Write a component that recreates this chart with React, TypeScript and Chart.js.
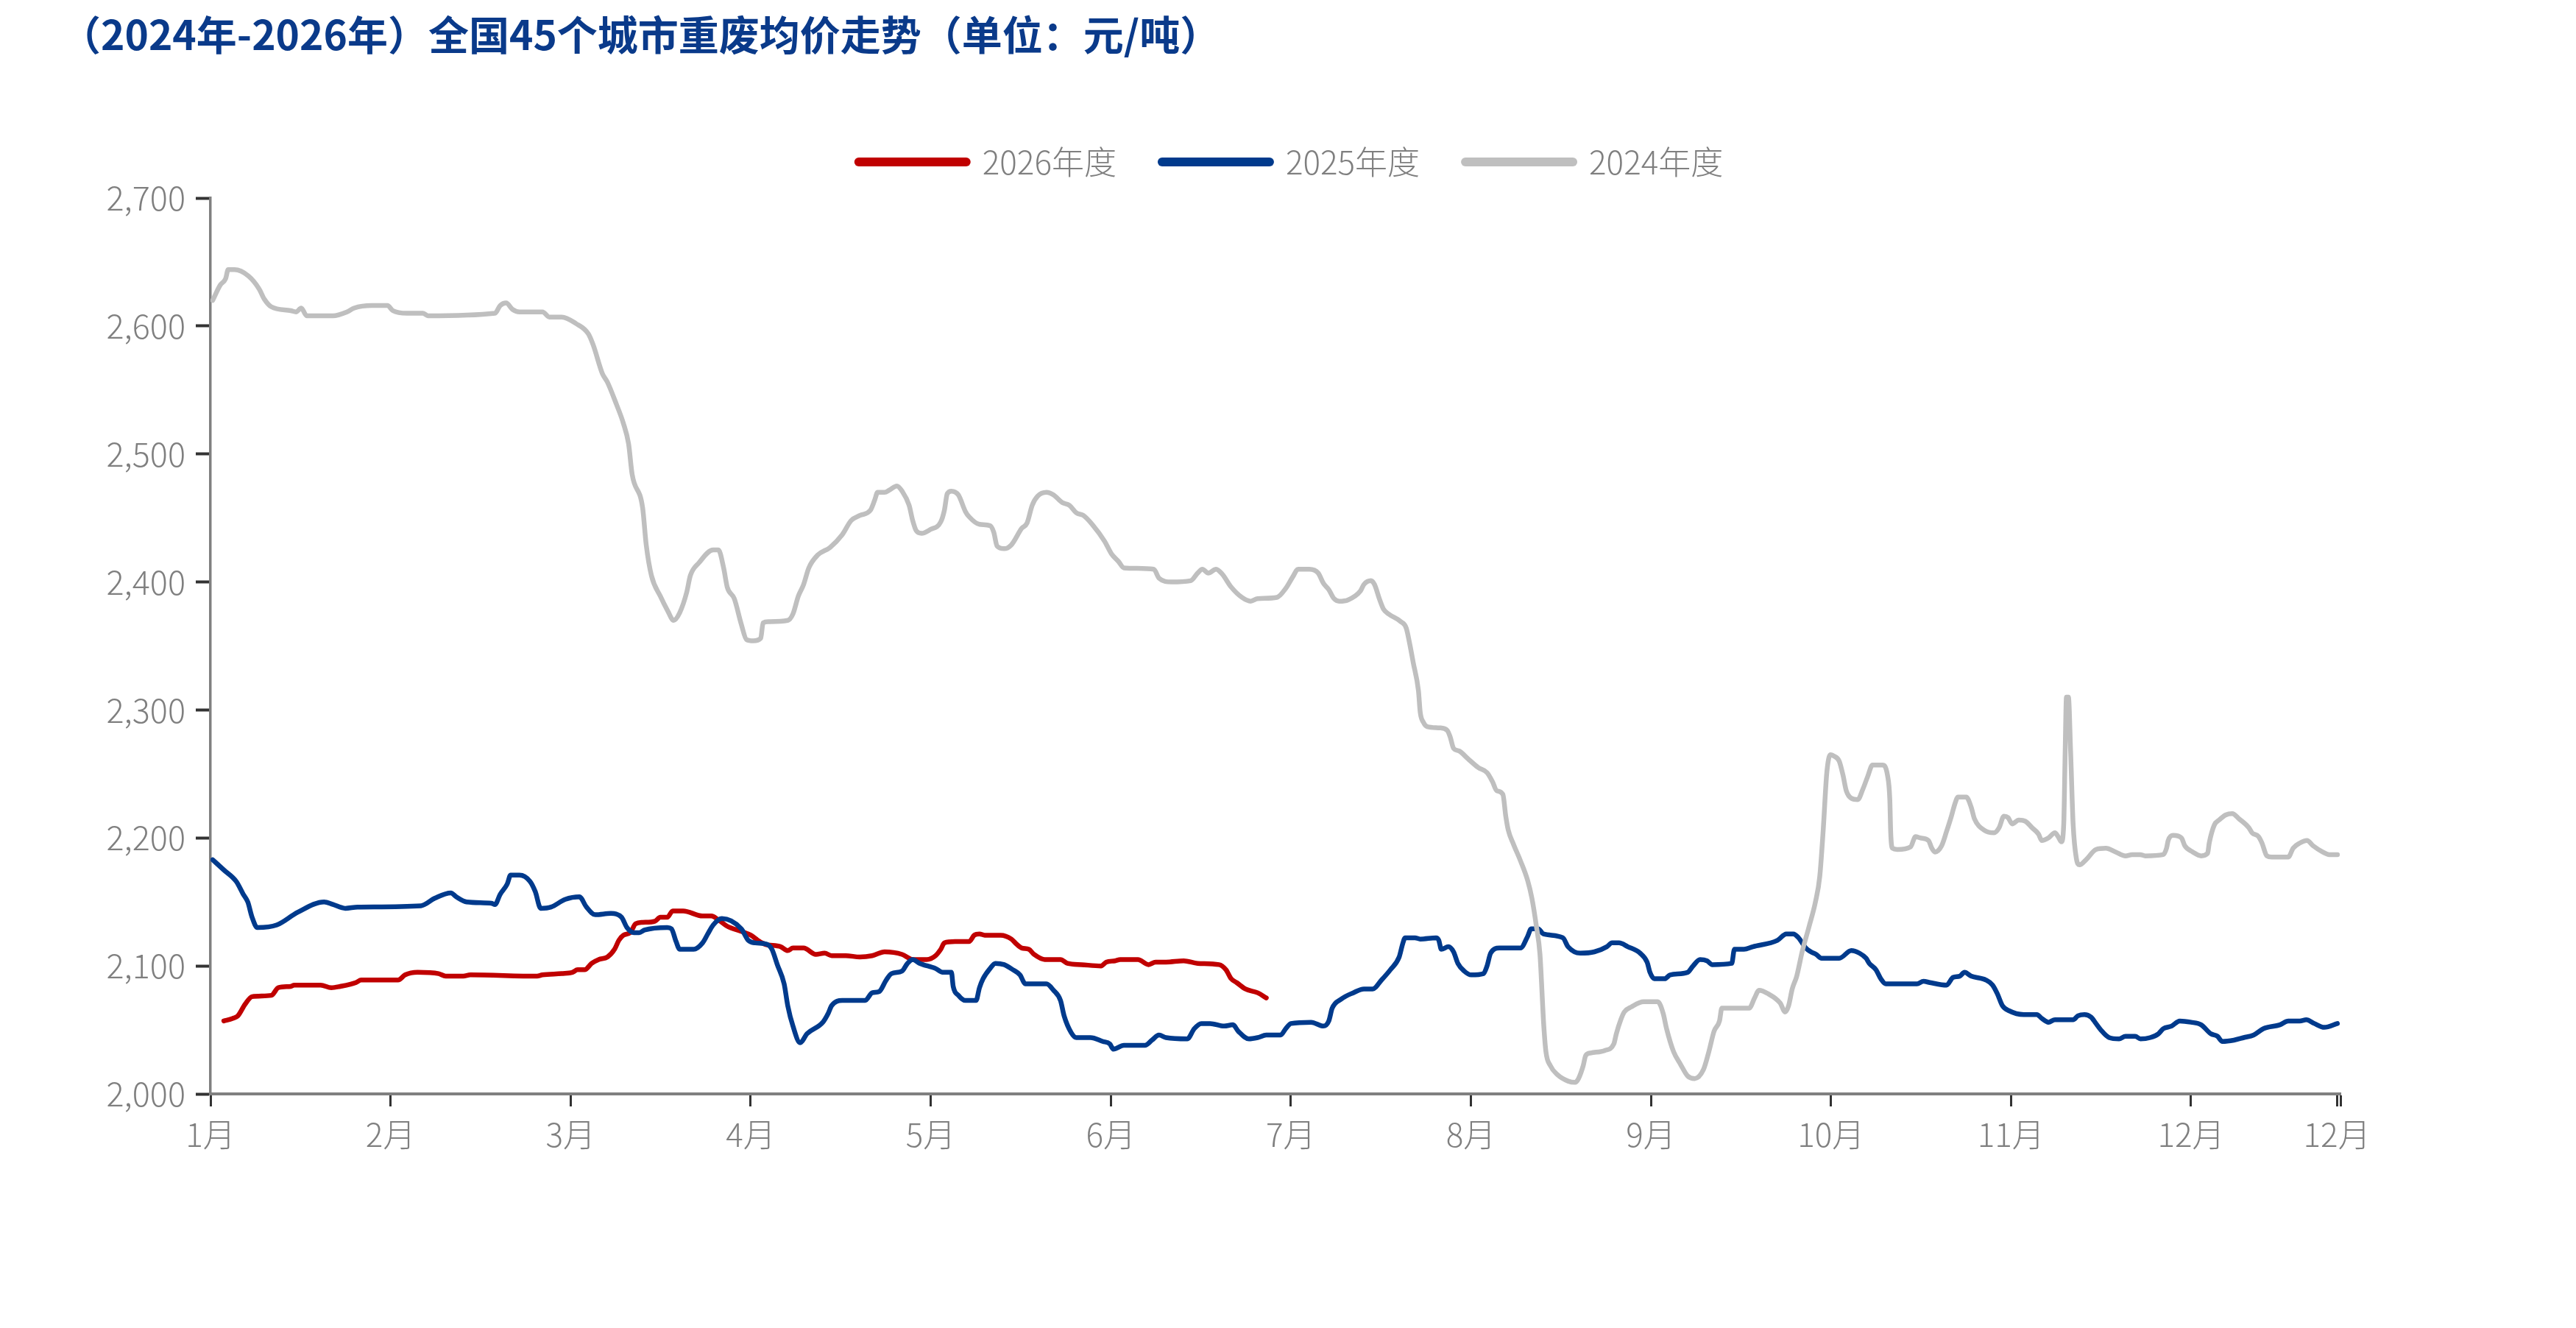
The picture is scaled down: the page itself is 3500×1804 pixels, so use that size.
import React, { useEffect, useRef } from 'react';
import { Chart, registerables } from 'chart.js';

Chart.register(...registerables);

// x position = month index (0 = 1月) + fraction of the month
const monthTickPositions = [0, 1, 2, 3, 4, 5, 6, 7, 8, 9, 10, 11, 11.81, 11.83];
const monthTickLabels = ['1月', '2月', '3月', '4月', '5月', '6月', '7月', '8月', '9月', '10月', '11月', '12月', '12月', ''];

const yMin = 2000;
const yMax = 2700;
const yStep = 100;

const seriesLabels = ['2026年度', '2025年度', '2024年度'];

const points2026: number[][] = [
  [0.074, 2057], [0.123, 2059], [0.152, 2061], [0.192, 2070], [0.231, 2076], [0.338, 2077], [0.377, 2083], [0.446, 2084],
  [0.465, 2085], [0.612, 2085], [0.671, 2083], [0.72, 2084], [0.808, 2087], [0.837, 2089], [1.042, 2089], [1.081, 2093],
  [1.15, 2095], [1.267, 2094], [1.306, 2092], [1.404, 2092], [1.443, 2093], [1.814, 2092], [1.843, 2093], [1.951, 2094],
  [2.01, 2095], [2.039, 2097], [2.078, 2097], [2.117, 2102], [2.156, 2105], [2.205, 2107], [2.244, 2113], [2.268, 2120],
  [2.293, 2124], [2.332, 2126], [2.361, 2133], [2.4, 2134], [2.469, 2135], [2.498, 2138], [2.537, 2138], [2.567, 2143],
  [2.625, 2143], [2.733, 2139], [2.782, 2139], [2.821, 2136], [2.87, 2131], [2.948, 2127], [3.001, 2124], [3.04, 2120],
  [3.079, 2117], [3.167, 2115], [3.206, 2112], [3.235, 2114], [3.294, 2114], [3.362, 2109], [3.411, 2110], [3.45, 2108],
  [3.528, 2108], [3.607, 2107], [3.675, 2108], [3.744, 2111], [3.841, 2109], [3.9, 2105], [3.978, 2105], [4.027, 2108],
  [4.056, 2113], [4.076, 2118], [4.135, 2119], [4.213, 2119], [4.242, 2124], [4.271, 2125], [4.3, 2124], [4.389, 2124],
  [4.448, 2121], [4.477, 2117], [4.506, 2114], [4.545, 2113], [4.574, 2109], [4.633, 2105], [4.721, 2105], [4.76, 2102],
  [4.838, 2101], [4.946, 2100], [4.975, 2103], [5.024, 2104], [5.053, 2105], [5.151, 2105], [5.21, 2101], [5.249, 2103],
  [5.307, 2103], [5.405, 2104], [5.483, 2102], [5.601, 2101], [5.64, 2097], [5.669, 2090], [5.699, 2087], [5.748, 2082],
  [5.816, 2079], [5.864, 2075],
];

const points2025: number[][] = [
  [0.012, 2183], [0.074, 2175], [0.143, 2166], [0.182, 2156], [0.207, 2150], [0.231, 2138], [0.26, 2130], [0.368, 2132],
  [0.485, 2142], [0.631, 2150], [0.68, 2148], [0.749, 2145], [0.817, 2146], [1.169, 2147], [1.247, 2153], [1.335, 2157],
  [1.365, 2154], [1.423, 2150], [1.56, 2149], [1.58, 2148], [1.609, 2156], [1.648, 2164], [1.667, 2171], [1.716, 2171],
  [1.775, 2166], [1.804, 2158], [1.834, 2145], [1.892, 2146], [1.97, 2152], [2.049, 2154], [2.088, 2146], [2.137, 2140],
  [2.224, 2141], [2.283, 2138], [2.313, 2130], [2.352, 2126], [2.381, 2126], [2.41, 2128], [2.537, 2130], [2.56, 2129],
  [2.586, 2119], [2.606, 2113], [2.684, 2113], [2.733, 2118], [2.762, 2125], [2.792, 2132], [2.84, 2137], [2.948, 2129],
  [2.987, 2120], [3.026, 2118], [3.089, 2117], [3.118, 2113], [3.148, 2101], [3.186, 2086], [3.206, 2069], [3.235, 2053],
  [3.275, 2040], [3.313, 2047], [3.401, 2056], [3.431, 2063], [3.45, 2069], [3.509, 2073], [3.538, 2073], [3.636, 2073],
  [3.675, 2079], [3.714, 2080], [3.753, 2089], [3.782, 2094], [3.841, 2096], [3.871, 2102], [3.9, 2105], [3.939, 2102],
  [4.027, 2098], [4.066, 2095], [4.115, 2095], [4.125, 2084], [4.154, 2077], [4.193, 2073], [4.252, 2073], [4.271, 2083],
  [4.291, 2090], [4.33, 2098], [4.359, 2102], [4.408, 2101], [4.457, 2097], [4.496, 2093], [4.526, 2086], [4.643, 2086],
  [4.682, 2081], [4.721, 2073], [4.741, 2061], [4.78, 2048], [4.809, 2044], [4.887, 2044], [4.956, 2041], [4.995, 2039],
  [5.014, 2035], [5.073, 2038], [5.19, 2038], [5.229, 2042], [5.268, 2046], [5.307, 2044], [5.425, 2043], [5.464, 2051],
  [5.503, 2055], [5.552, 2055], [5.63, 2053], [5.679, 2054], [5.708, 2049], [5.767, 2043], [5.816, 2044], [5.864, 2046],
  [5.943, 2046], [5.972, 2051], [6.001, 2055], [6.113, 2056], [6.181, 2053], [6.211, 2057], [6.23, 2067], [6.279, 2074],
  [6.347, 2079], [6.406, 2082], [6.455, 2082], [6.504, 2089], [6.553, 2097], [6.602, 2107], [6.621, 2117], [6.635, 2122],
  [6.69, 2122], [6.719, 2121], [6.807, 2122], [6.822, 2120], [6.836, 2113], [6.875, 2115], [6.904, 2111], [6.928, 2102],
  [6.963, 2096], [7.002, 2093], [7.07, 2094], [7.09, 2100], [7.11, 2110], [7.158, 2114], [7.276, 2114], [7.315, 2123],
  [7.335, 2129], [7.374, 2129], [7.403, 2125], [7.511, 2122], [7.54, 2115], [7.608, 2110], [7.686, 2111], [7.755, 2115],
  [7.784, 2118], [7.823, 2118], [7.872, 2115], [7.94, 2110], [7.979, 2103], [7.995, 2095], [8.019, 2090], [8.077, 2090],
  [8.107, 2093], [8.204, 2095], [8.234, 2100], [8.273, 2105], [8.312, 2104], [8.341, 2101], [8.449, 2102], [8.464, 2113],
  [8.517, 2113], [8.566, 2115], [8.703, 2120], [8.752, 2125], [8.791, 2125], [8.82, 2122], [8.86, 2114], [8.889, 2111],
  [8.918, 2109], [8.948, 2106], [9.046, 2106], [9.113, 2112], [9.158, 2110], [9.195, 2106], [9.213, 2102], [9.25, 2097],
  [9.277, 2090], [9.305, 2086], [9.478, 2086], [9.514, 2088], [9.55, 2087], [9.642, 2085], [9.678, 2091], [9.715, 2092],
  [9.742, 2095], [9.779, 2092], [9.861, 2089], [9.898, 2085], [9.925, 2078], [9.952, 2069], [9.989, 2065], [10.071, 2062],
  [10.144, 2062], [10.171, 2059], [10.208, 2056], [10.244, 2058], [10.345, 2058], [10.372, 2061], [10.408, 2062], [10.445, 2060],
  [10.472, 2055], [10.499, 2050], [10.545, 2044], [10.6, 2043], [10.636, 2045], [10.69, 2045], [10.719, 2043], [10.773, 2044],
  [10.819, 2047], [10.846, 2051], [10.892, 2053], [10.937, 2057], [11.0, 2056], [11.056, 2054], [11.11, 2047], [11.147, 2045],
  [11.174, 2041], [11.238, 2042], [11.293, 2044], [11.348, 2046], [11.403, 2051], [11.494, 2054], [11.54, 2057], [11.604, 2057],
  [11.64, 2058], [11.685, 2055], [11.74, 2052], [11.813, 2055],
];

const points2024: number[][] = [
  [0.012, 2620], [0.054, 2632], [0.084, 2637], [0.098, 2644], [0.133, 2644], [0.211, 2639], [0.27, 2629], [0.299, 2621],
  [0.338, 2615], [0.446, 2612], [0.475, 2611], [0.504, 2614], [0.534, 2608], [0.68, 2608], [0.758, 2611], [0.798, 2614],
  [0.895, 2616], [0.983, 2616], [1.013, 2612], [1.091, 2610], [1.179, 2610], [1.208, 2608], [1.58, 2610], [1.609, 2616],
  [1.642, 2618], [1.677, 2613], [1.716, 2611], [1.844, 2611], [1.882, 2607], [1.951, 2607], [2.029, 2602], [2.098, 2594],
  [2.126, 2585], [2.176, 2563], [2.205, 2556], [2.254, 2539], [2.293, 2524], [2.322, 2508], [2.342, 2484], [2.4, 2458],
  [2.42, 2429], [2.449, 2405], [2.498, 2389], [2.541, 2377], [2.572, 2370], [2.606, 2376], [2.645, 2392], [2.665, 2405],
  [2.713, 2415], [2.792, 2425], [2.821, 2425], [2.85, 2411], [2.87, 2396], [2.909, 2387], [2.948, 2367], [2.977, 2355],
  [3.016, 2354], [3.056, 2356], [3.069, 2368], [3.099, 2369], [3.206, 2370], [3.235, 2375], [3.265, 2389], [3.294, 2398],
  [3.323, 2411], [3.372, 2421], [3.441, 2427], [3.509, 2437], [3.558, 2448], [3.607, 2452], [3.665, 2456], [3.689, 2464],
  [3.705, 2470], [3.744, 2470], [3.773, 2472], [3.812, 2475], [3.841, 2471], [3.88, 2460], [3.9, 2448], [3.92, 2440],
  [3.949, 2438], [3.998, 2441], [4.056, 2447], [4.076, 2456], [4.092, 2469], [4.115, 2471], [4.154, 2468], [4.193, 2455],
  [4.213, 2451], [4.271, 2445], [4.33, 2444], [4.35, 2439], [4.369, 2428], [4.408, 2426], [4.448, 2429], [4.506, 2442],
  [4.535, 2446], [4.564, 2460], [4.594, 2467], [4.643, 2470], [4.682, 2468], [4.731, 2462], [4.77, 2460], [4.809, 2454],
  [4.848, 2452], [4.897, 2445], [4.965, 2432], [5.004, 2422], [5.043, 2416], [5.073, 2411], [5.239, 2410], [5.268, 2403],
  [5.337, 2400], [5.444, 2401], [5.483, 2407], [5.509, 2410], [5.542, 2407], [5.585, 2410], [5.62, 2406], [5.669, 2396],
  [5.728, 2388], [5.777, 2385], [5.816, 2387], [5.923, 2388], [5.972, 2395], [6.011, 2404], [6.041, 2410], [6.103, 2410],
  [6.152, 2407], [6.181, 2399], [6.211, 2394], [6.24, 2387], [6.269, 2385], [6.318, 2386], [6.387, 2393], [6.406, 2398],
  [6.445, 2401], [6.465, 2398], [6.494, 2386], [6.514, 2379], [6.543, 2375], [6.611, 2369], [6.641, 2364], [6.66, 2352],
  [6.68, 2337], [6.709, 2315], [6.719, 2298], [6.738, 2290], [6.758, 2287], [6.826, 2286], [6.869, 2284], [6.885, 2279],
  [6.904, 2270], [6.934, 2268], [6.983, 2262], [7.041, 2255], [7.09, 2251], [7.12, 2244], [7.143, 2237], [7.178, 2234],
  [7.194, 2217], [7.208, 2206], [7.237, 2195], [7.276, 2182], [7.315, 2167], [7.339, 2153], [7.364, 2131], [7.384, 2109],
  [7.393, 2086], [7.403, 2058], [7.417, 2033], [7.442, 2022], [7.481, 2015], [7.54, 2010], [7.579, 2009], [7.598, 2012],
  [7.624, 2022], [7.638, 2030], [7.667, 2032], [7.745, 2034], [7.794, 2039], [7.808, 2047], [7.833, 2058], [7.852, 2064],
  [7.892, 2068], [7.96, 2072], [8.038, 2072], [8.068, 2063], [8.087, 2051], [8.126, 2033], [8.165, 2023], [8.204, 2014],
  [8.243, 2012], [8.292, 2019], [8.322, 2033], [8.351, 2049], [8.381, 2057], [8.394, 2067], [8.546, 2067], [8.576, 2075],
  [8.601, 2081], [8.654, 2078], [8.718, 2071], [8.746, 2064], [8.765, 2069], [8.785, 2082], [8.81, 2092], [8.84, 2111],
  [8.879, 2131], [8.914, 2150], [8.938, 2170], [8.957, 2206], [8.977, 2251], [8.997, 2265], [9.016, 2264], [9.046, 2260],
  [9.067, 2249], [9.085, 2237], [9.113, 2231], [9.149, 2230], [9.177, 2238], [9.204, 2248], [9.231, 2257], [9.286, 2257],
  [9.314, 2249], [9.327, 2230], [9.332, 2204], [9.341, 2192], [9.369, 2191], [9.442, 2193], [9.47, 2201], [9.497, 2200],
  [9.542, 2198], [9.56, 2192], [9.578, 2189], [9.615, 2194], [9.642, 2205], [9.669, 2217], [9.687, 2226], [9.706, 2232],
  [9.751, 2232], [9.779, 2224], [9.797, 2215], [9.852, 2206], [9.906, 2204], [9.934, 2208], [9.961, 2217], [9.983, 2216],
  [10.007, 2211], [10.043, 2214], [10.08, 2213], [10.117, 2208], [10.153, 2203], [10.171, 2198], [10.208, 2200], [10.244, 2204],
  [10.262, 2201], [10.28, 2197], [10.293, 2211], [10.301, 2268], [10.308, 2310], [10.319, 2310], [10.331, 2268], [10.345, 2211],
  [10.363, 2184], [10.381, 2179], [10.417, 2183], [10.472, 2191], [10.527, 2192], [10.582, 2189], [10.636, 2186], [10.673, 2187],
  [10.718, 2187], [10.746, 2186], [10.846, 2187], [10.864, 2192], [10.873, 2198], [10.901, 2202], [10.947, 2200], [10.965, 2194],
  [11.01, 2189], [11.056, 2186], [11.092, 2188], [11.101, 2196], [11.129, 2210], [11.156, 2214], [11.193, 2218], [11.229, 2219],
  [11.266, 2215], [11.321, 2208], [11.339, 2204], [11.375, 2201], [11.394, 2196], [11.421, 2186], [11.449, 2185], [11.54, 2185],
  [11.567, 2192], [11.604, 2196], [11.644, 2198], [11.677, 2194], [11.731, 2189], [11.767, 2187], [11.813, 2187],
];

const FONT = '"Noto Sans CJK SC", "Noto Sans", sans-serif';
const TEXT_GRAY = '#7f7f7f';

const toXY = (pts: number[][]) => pts.map((p) => ({ x: p[0], y: p[1] }));

export default function App() {
  const ref = useRef<HTMLCanvasElement | null>(null);

  useEffect(() => {
    document.body.style.margin = '0';
    const canvas = ref.current;
    if (!canvas) return;

    const padLeft = 82;
    const padRight = 74;
    const chartLeft = 286;
    const chartRight = 3180;
    const chartBottom = 1486;
    const xAxisHeight = 100;

    const lineCommon = {
      borderWidth: 6.5,
      pointRadius: 0,
      pointHoverRadius: 0,
      cubicInterpolationMode: 'monotone' as const,
      borderCapStyle: 'round' as const,
      borderJoinStyle: 'round' as const,
      fill: false,
      xAxisID: 'x',
      yAxisID: 'y',
    };

    const chart = new Chart(canvas, {
      type: 'line',
      data: {
        datasets: [
          { ...lineCommon, label: seriesLabels[0], data: toXY(points2026), borderColor: '#c00000', backgroundColor: '#c00000', order: 3 },
          { ...lineCommon, label: seriesLabels[1], data: toXY(points2025), borderColor: '#003a8c', backgroundColor: '#003a8c', order: 2 },
          { ...lineCommon, label: seriesLabels[2], data: toXY(points2024), borderColor: '#bfbfbf', backgroundColor: '#bfbfbf', order: 1 },
        ],
      },
      options: {
        responsive: false,
        animation: false,
        events: [],
        layout: {
          padding: { left: padLeft, right: padRight, top: 0, bottom: 1804 - chartBottom - xAxisHeight },
        },
        plugins: {
          tooltip: { enabled: false },
          title: {
            display: true,
            text: '（2024年-2026年）全国45个城市重废均价走势（单位：元/吨）',
            align: 'start',
            color: '#0a3a8a',
            font: { family: FONT, size: 55, weight: 'bold', lineHeight: 1.2 },
            padding: { top: 14, bottom: 56 },
          },
          legend: {
            display: true,
            position: 'top',
            align: 'center',
            labels: {
              usePointStyle: true,
              pointStyleWidth: 146,
              padding: 62,
              color: TEXT_GRAY,
              font: { family: FONT, size: 44, weight: '300' },
              generateLabels: (c: any) =>
                c.data.datasets.map((ds: any, i: number) => ({
                  text: ds.label,
                  fillStyle: ds.borderColor,
                  strokeStyle: ds.borderColor,
                  lineWidth: 12,
                  lineCap: 'round',
                  pointStyle: 'line',
                  fontColor: TEXT_GRAY,
                  hidden: false,
                  datasetIndex: i,
                })),
            },
          },
        },
        scales: {
          x: {
            type: 'linear',
            position: 'bottom',
            min: 0,
            max: monthTickPositions[monthTickPositions.length - 1],
            afterBuildTicks: (scale: any) => {
              scale.ticks = monthTickPositions.map((v) => ({ value: v }));
            },
            afterFit: (scale: any) => {
              scale.height = xAxisHeight;
            },
            ticks: {
              autoSkip: false,
              maxRotation: 0,
              minRotation: 0,
              padding: 12,
              color: TEXT_GRAY,
              font: { family: FONT, size: 44, weight: '300' },
              callback: (_v: any, i: number) => monthTickLabels[i],
            },
            grid: {
              display: true,
              drawOnChartArea: false,
              drawTicks: true,
              tickLength: 17,
              tickWidth: 3,
              tickColor: '#333333',
            },
            border: { display: true, color: '#808080', width: 4 },
          },
          xTop: {
            type: 'linear',
            position: 'top',
            display: true,
            afterFit: (scale: any) => {
              scale.height = 17;
            },
            ticks: { display: false },
            grid: { display: false },
            border: { display: false },
          },
          y: {
            type: 'linear',
            position: 'left',
            min: yMin,
            max: yMax,
            afterFit: (scale: any) => {
              scale.width = chartLeft - padLeft;
            },
            ticks: {
              stepSize: yStep,
              padding: 14,
              color: TEXT_GRAY,
              font: { family: FONT, size: 45, weight: '300' },
              callback: (v: any) => Number(v).toLocaleString('en-US'),
            },
            grid: {
              display: true,
              drawOnChartArea: false,
              drawTicks: true,
              tickLength: 20,
              tickWidth: 4,
              tickColor: '#333333',
            },
            border: { display: true, color: '#808080', width: 3.5 },
          },
          yRight: {
            type: 'linear',
            position: 'right',
            display: true,
            afterFit: (scale: any) => {
              scale.width = 3500 - padRight - chartRight;
            },
            ticks: { display: false },
            grid: { display: false },
            border: { display: false },
          },
        },
      } as any,
    });

    return () => chart.destroy();
  }, []);

  return (
    <div style={{ width: 3500, height: 1804, position: 'relative', background: '#ffffff' }}>
      <canvas ref={ref} width={3500} height={1804} style={{ display: 'block', width: 3500, height: 1804 }} />
    </div>
  );
}
